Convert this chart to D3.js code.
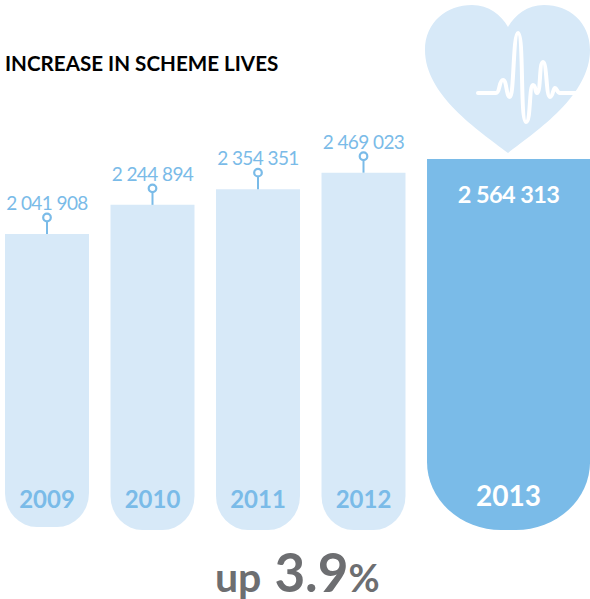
<!DOCTYPE html>
<html>
<head>
<meta charset="utf-8">
<script src="https://cdn.jsdelivr.net/npm/d3@7"></script>
<style>
html,body{margin:0;padding:0;background:#fff;overflow:hidden;}
svg{display:block;font-family:Lato,"Open Sans",sans-serif;}
</style>
</head>
<body>
<div id="viz"></div>
<script>
var years = ["2009","2010","2011","2012","2013"];
var lives = [2041908,2244894,2354351,2469023,2564313];
var lifeLabels = ["2 041 908","2 244 894","2 354 351","2 469 023","2 564 313"];

var light = "#d7e9f8", mid = "#7abbe8", grey = "#6d6e71";

var svg = d3.select("#viz")
    .append("svg")
    .attr("width",590)
    .attr("height",599);

var x = d3.scaleBand()
    .domain(years)
    .range([5,511])
    .paddingInner(0.204)
    .paddingOuter(0);

// axis does not start at zero in the original
var y = d3.scaleLinear()
    .domain([2041908,2564313])
    .range([234,159]);

function barPath(x0,w,top,bottom,rx,ry){
    return "M"+x0+","+top+"H"+(x0+w)+"V"+(bottom-ry)
        +"A"+rx+","+ry+" 0 0 1 "+(x0+w-rx)+","+bottom
        +"H"+(x0+rx)
        +"A"+rx+","+ry+" 0 0 1 "+x0+","+(bottom-ry)+"Z";
}

var data = years.map(function(d,i){
    return {year:d,value:lives[i],label:lifeLabels[i],last:i==years.length-1};
});

function barW(d){ return d.last ? 163 : x.bandwidth(); }
function barC(d){ return x(d.year)+barW(d)/2; }
function barB(d){ return d.year=="2009" ? 527 : 530; }

svg.append("text")
    .attr("x",5)
    .attr("y",71)
    .attr("font-size",20.6)
    .attr("font-weight",700)
    .attr("fill","#000")
    .text("INCREASE IN SCHEME LIVES");

// heart
svg.append("path")
    .attr("fill",light)
    .attr("d","M508,153C478,130 425,95 425,50C425,22 447,5 472,5C489,5 501,15 508,27C515,15 527,5 544,5C569,5 590,22 590,50C590,95 538,130 508,153Z");

// pulse trace across the heart
svg.append("path")
    .attr("fill","none")
    .attr("stroke","#fff")
    .attr("stroke-width",4)
    .attr("stroke-linecap","round")
    .attr("stroke-linejoin","round")
    .attr("d","M478,93H496C500,93 499,80 503,80C507,80 506,97 510,97C514,97 513,33 518,33C524,33 520,122 526,122C531,122 529,85 533,85C536,85 535,93 537,93C541,93 539,62 543,62C547,62 546,97 550,97C553,97 553,88 555,88C557,88 557,93 560,93H576");

var gs = svg.selectAll("g.bar")
    .data(data)
    .enter()
    .append("g")
    .attr("class","bar");

gs.append("path")
    .attr("fill",function(d){ return d.last ? mid : light; })
    .attr("d",function(d){
        return barPath(x(d.year),barW(d),y(d.value),barB(d),d.last ? 74 : 32,d.last ? 68 : 34);
    });

var small = gs.filter(function(d){ return !d.last; });

small.append("line")
    .attr("x1",barC)
    .attr("x2",barC)
    .attr("y1",function(d){ return y(d.value); })
    .attr("y2",function(d){ return y(d.value)-13; })
    .attr("stroke",mid)
    .attr("stroke-width",2);

small.append("circle")
    .attr("cx",barC)
    .attr("cy",function(d){ return y(d.value)-16.5; })
    .attr("r",3.8)
    .attr("fill","#fff")
    .attr("stroke",mid)
    .attr("stroke-width",2.2);

small.append("text")
    .attr("x",barC)
    .attr("y",function(d){ return y(d.value)-24; })
    .attr("text-anchor","middle")
    .attr("font-size",19)
    .attr("letter-spacing",-0.6)
    .attr("fill",mid)
    .text(function(d){ return d.label; });

gs.filter(function(d){ return d.last; })
    .append("text")
    .attr("x",barC)
    .attr("y",203)
    .attr("text-anchor","middle")
    .attr("font-size",23.5)
    .attr("letter-spacing",-0.6)
    .attr("font-weight",700)
    .attr("fill","#fff")
    .text(function(d){ return d.label; });

gs.append("text")
    .attr("x",barC)
    .attr("y",function(d){ return d.last ? 506 : 508; })
    .attr("text-anchor","middle")
    .attr("font-size",function(d){ return d.last ? 28 : 24; })
    .attr("font-weight",700)
    .attr("fill",function(d){ return d.last ? "#fff" : mid; })
    .text(function(d){ return d.year; });

var up = svg.append("text")
    .attr("x",215)
    .attr("y",592)
    .attr("font-weight",700)
    .attr("fill",grey);
up.append("tspan").attr("font-size",41).text("up ");
up.append("tspan").attr("font-size",53).attr("dx",3).text("3.9");
up.append("tspan").attr("font-size",38).text("%");
</script>
</body>
</html>
